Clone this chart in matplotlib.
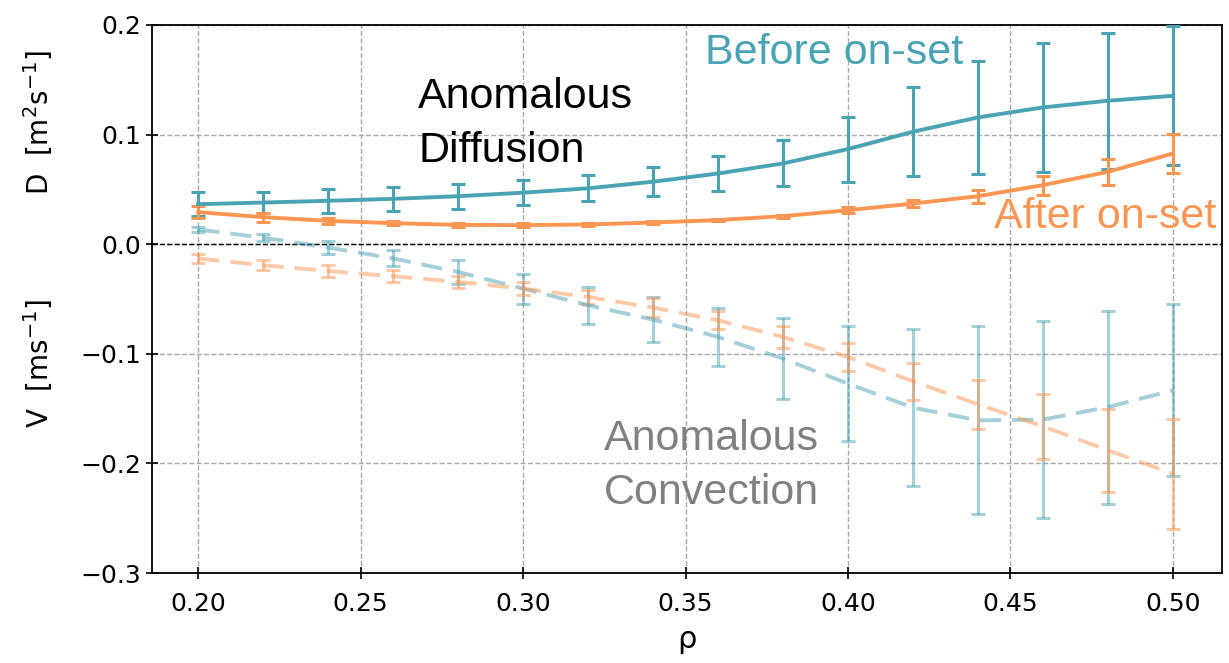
import matplotlib
matplotlib.use("Agg")
import matplotlib.pyplot as plt

# radial positions
rho = [0.20, 0.22, 0.24, 0.26, 0.28, 0.30, 0.32, 0.34,
       0.36, 0.38, 0.40, 0.42, 0.44, 0.46, 0.48, 0.50]

# diffusion before / after on-set
d_before = [0.0365, 0.038, 0.0396, 0.0414, 0.0438, 0.047, 0.051, 0.057,
            0.0645, 0.0737, 0.0868, 0.1026, 0.1157, 0.1248, 0.1309, 0.1354]
d_before_err = [0.011, 0.0095, 0.011, 0.011, 0.0114, 0.0112, 0.0118, 0.013,
                0.016, 0.021, 0.0297, 0.0405, 0.0514, 0.059, 0.062, 0.0633]
d_after = [0.0292, 0.0247, 0.0213, 0.0192, 0.0176, 0.0174, 0.018, 0.0198,
           0.022, 0.0256, 0.031, 0.0371, 0.0438, 0.0539, 0.066, 0.0828]
d_after_err = [0.0053, 0.004, 0.003, 0.002, 0.0015, 0.0015, 0.0012, 0.0012,
               0.0012, 0.0015, 0.0025, 0.0033, 0.006, 0.0087, 0.0117, 0.0177]

# convection before / after on-set
v_before = [0.0134, 0.006, -0.003, -0.013, -0.0253, -0.0405, -0.0557, -0.0688,
            -0.0846, -0.1044, -0.1272, -0.1491, -0.1607, -0.160, -0.1486, -0.1333]
v_before_err = [0.002, 0.0035, 0.0056, 0.0073, 0.011, 0.0137, 0.017, 0.0205,
                0.0266, 0.037, 0.0525, 0.0714, 0.0858, 0.09, 0.088, 0.0785]
v_after = [-0.013, -0.0192, -0.0244, -0.0292, -0.0344, -0.0405, -0.0481, -0.0578,
           -0.0694, -0.0846, -0.1029, -0.1251, -0.146, -0.1662, -0.188, -0.2094]
v_after_err = [0.0043, 0.0046, 0.0052, 0.0056, 0.0056, 0.006, 0.006, 0.0088,
               0.0084, 0.0097, 0.0126, 0.017, 0.0224, 0.0294, 0.038, 0.05]

teal = "#4aa3b3"
orange = "#fc9652"

fig = plt.figure(figsize=(12.29, 6.63), dpi=100)
ax = fig.add_axes([0.1237, 0.1357, 0.8706, 0.8266])

ax.errorbar(rho, d_before, yerr=d_before_err, color=teal, lw=2.8,
            elinewidth=2.2, capsize=5, capthick=2.2, zorder=4)
ax.errorbar(rho, d_after, yerr=d_after_err, color=orange, lw=2.8,
            elinewidth=2.2, capsize=5, capthick=2.2, zorder=4)
ax.errorbar(rho, v_before, yerr=v_before_err, color=teal, alpha=0.5, lw=2.8,
            ls=(0, (5.5, 2.8)), elinewidth=2.2, capsize=5, capthick=2.2, zorder=3)
ax.errorbar(rho, v_after, yerr=v_after_err, color=orange, alpha=0.5, lw=2.8,
            ls=(0, (5.5, 2.8)), elinewidth=2.2, capsize=5, capthick=2.2, zorder=3)

ax.axhline(0, color="black", ls="--", lw=1.0, zorder=2)

ax.set_xlim(0.1858, 0.5151)
ax.set_ylim(-0.3, 0.2)
ax.set_xticks([0.20, 0.25, 0.30, 0.35, 0.40, 0.45, 0.50])
ax.set_xticklabels(["0.20", "0.25", "0.30", "0.35", "0.40", "0.45", "0.50"])
ax.set_yticks([-0.3, -0.2, -0.1, 0.0, 0.1, 0.2])
ax.set_yticklabels(["\u22120.3", "\u22120.2", "\u22120.1", "0.0", "0.1", "0.2"])
ax.tick_params(direction="inout", length=8, width=1.2, labelsize=18)
ax.tick_params(axis="x", pad=10)
ax.grid(True, ls="--", color="#aaaaaa", lw=1.0)
for s in ax.spines.values():
    s.set_linewidth(1.3)

ax.set_xlabel("\u03c1", fontsize=22, labelpad=6)

fig.text(0.031, 1 - 123 / 663, "D  [m$^2$s$^{-1}$]", rotation=90,
         fontsize=20, ha="center", va="center")
fig.text(0.031, 1 - 363 / 663, "V  [ms$^{-1}$]", rotation=90,
         fontsize=20, ha="center", va="center")

txt = dict(family="Liberation Sans", fontsize=31, linespacing=1.45)
ax.text(0.2677, 0.110, "Anomalous\nDiffusion", color="black",
        ha="left", va="center", **txt)
ax.text(0.356, 0.174, "Before on-set", color=teal, ha="left", va="center", **txt)
ax.text(0.5135, 0.0247, "After on-set", color=orange, ha="right", va="center", **txt)
ax.text(0.325, -0.202, "Anomalous\nConvection", color="gray",
        ha="left", va="center", **txt)

fig.savefig("out.png", dpi=100)
